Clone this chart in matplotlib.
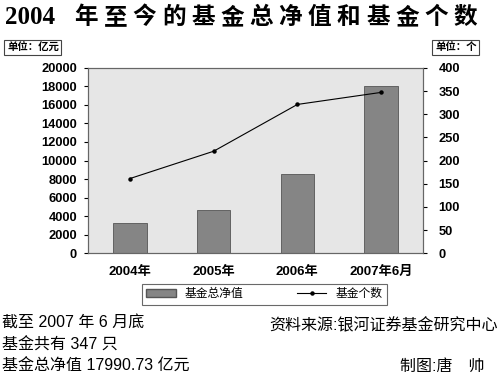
import matplotlib.pyplot as plt
import matplotlib.lines as mlines
import matplotlib.patches as mpatches

plt.rcParams['font.family'] = ['Liberation Sans', 'Noto Sans CJK SC']

# data
years = ['2004年', '2005年', '2006年', '2007年6月']
nav = [3246, 4691, 8565, 17990.73]      # 基金总净值 (亿元)
counts = [161, 220, 321, 347]           # 基金个数

fig = plt.figure(figsize=(5, 3.79), dpi=100)
ax = fig.add_axes([0.176, 0.332, 0.67, 0.489])
ax.set_facecolor('#e6e6e6')

x = range(len(years))
ax.bar(x, nav, width=0.4, color='#858585', edgecolor='#555555', linewidth=0.6, zorder=2)
ax.set_xlim(-0.5, 3.5)
ax.set_ylim(0, 20000)
ax.set_yticks(range(0, 20001, 2000))
ax.set_xticks(list(x))
ax.set_xticklabels(years, fontweight='bold', fontsize=9.5)
ax.tick_params(axis='x', length=0, pad=9)
ax.tick_params(axis='y', labelsize=9.3, length=3, direction='out', pad=5)
for lab in ax.get_yticklabels():
    lab.set_fontweight('bold')
for s in ax.spines.values():
    s.set_color('#666666')
    s.set_linewidth(0.8)

ax2 = ax.twinx()
ax2.plot(list(x), counts, color='black', linewidth=0.8, marker='o', markersize=2.2, zorder=3)
ax2.set_ylim(0, 400)
ax2.set_yticks(range(0, 401, 50))
ax2.tick_params(axis='y', labelsize=9.3, length=3, direction='out', pad=8)
for lab in ax2.get_yticklabels():
    lab.set_fontweight('bold')
for s in ax2.spines.values():
    s.set_color('#666666')
    s.set_linewidth(0.8)

# legend below
bar_h = mpatches.Patch(facecolor='#858585', edgecolor='#555555', label='基金总净值')
line_h = mlines.Line2D([], [], color='black', linewidth=0.8, marker='o', markersize=2.2, label='基金个数')
leg = fig.legend(handles=[bar_h, line_h], loc='center', bbox_to_anchor=(0.529, 0.223), ncol=2,
                 fontsize=8.5, frameon=True, fancybox=False, edgecolor='#444444',
                 handlelength=2.5, handleheight=0.7, columnspacing=4.5, borderpad=0.35)
leg.get_frame().set_linewidth(0.8)

# title, characters spread over the full width
title_chars = list('年至今的基金总净值和基金个数')
fig.text(0.01, 0.955, '2004', fontsize=18, fontweight='bold', family=['Liberation Serif'],
         va='center', ha='left')
for i, ch in enumerate(title_chars):
    fig.text((86 + 29.2 * i) / 500, 0.955, ch, fontsize=17, fontweight='bold',
             family=['Noto Sans CJK SC'], va='center', ha='center')

box = dict(boxstyle='square,pad=0.25', facecolor='white', edgecolor='#444444', linewidth=0.8)
fig.text(0.014, 0.875, '单位：亿元', fontsize=7.5, fontweight='bold', family=['Noto Sans CJK SC'],
         va='center', ha='left', bbox=box)
fig.text(0.87, 0.875, '单位：个', fontsize=7.5, fontweight='bold', family=['Noto Sans CJK SC'],
         va='center', ha='left', bbox=box)

fs = 11.5
fig.text(0.004, 0.148, '截至 2007 年 6 月底', fontsize=fs, va='center', ha='left')
fig.text(0.004, 0.090, '基金共有 347 只', fontsize=fs, va='center', ha='left')
fig.text(0.004, 0.033, '基金总净值 17990.73 亿元', fontsize=fs, va='center', ha='left')
fig.text(0.995, 0.141, '资料来源:银河证券基金研究中心', fontsize=fs, va='center', ha='right')
fig.text(0.97, 0.033, '制图:唐　帅', fontsize=fs, va='center', ha='right')

fig.savefig('out.png', dpi=100, facecolor='white')
